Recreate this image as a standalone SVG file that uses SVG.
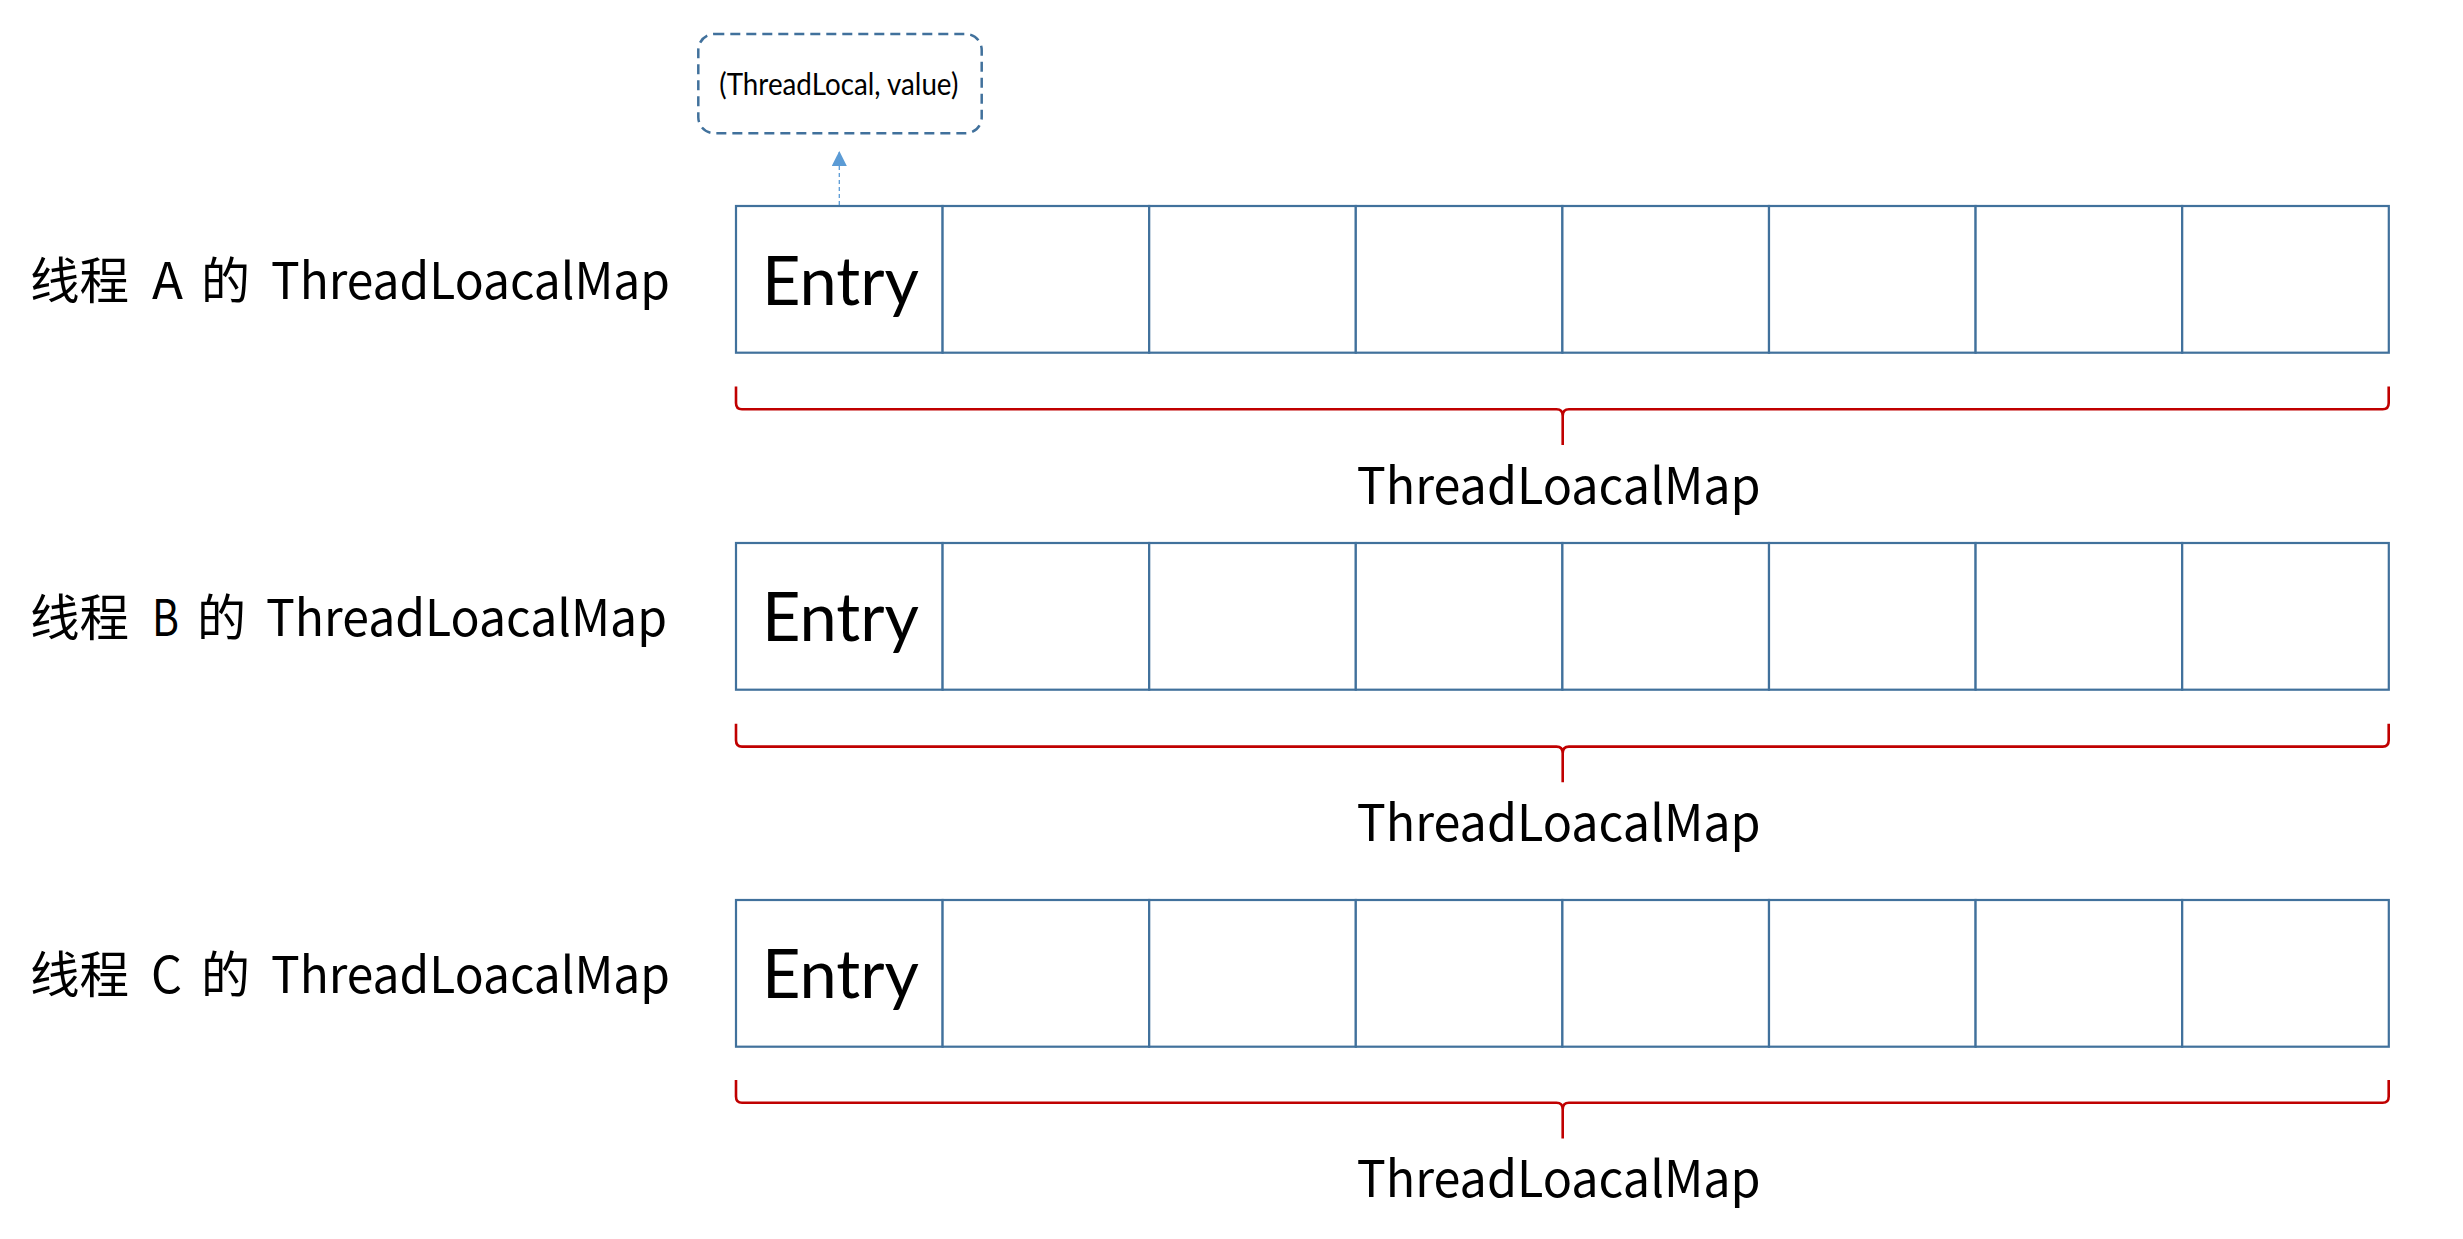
<svg xmlns="http://www.w3.org/2000/svg" width="2463" height="1239" viewBox="0 0 2463 1239">
<style>
.cell{fill:#fff;stroke:#41719C;stroke-width:2.2}
.brace{fill:none;stroke:#C00000;stroke-width:2.6}
.lbl{font-family:"Noto Sans CJK SC","Noto Sans",sans-serif;font-size:50px;fill:#000}
.map{font-family:"Noto Sans CJK SC","Noto Sans",sans-serif;font-size:50px;fill:#000}
.entry{font-family:Lato,"Open Sans",sans-serif;font-size:68px;fill:#000}
.note{font-family:Lato,"Open Sans",sans-serif;font-size:31px;fill:#000}
</style>
<defs>
<marker id="ah" markerWidth="15" markerHeight="15" refX="15" refY="7.5" orient="auto" markerUnits="userSpaceOnUse" viewBox="0 0 15 15">
<path d="M0,0 L15,7.5 L0,15 Z" fill="#5B9BD5"/>
</marker>
<g id="row">
<rect class="cell" x="0" y="0" width="206.6" height="146.7"/>
<rect class="cell" x="206.6" y="0" width="206.6" height="146.7"/>
<rect class="cell" x="413.2" y="0" width="206.6" height="146.7"/>
<rect class="cell" x="619.8" y="0" width="206.6" height="146.7"/>
<rect class="cell" x="826.4" y="0" width="206.6" height="146.7"/>
<rect class="cell" x="1033" y="0" width="206.6" height="146.7"/>
<rect class="cell" x="1239.6" y="0" width="206.6" height="146.7"/>
<rect class="cell" x="1446.2" y="0" width="206.6" height="146.7"/>
</g>
<path id="br" class="brace" d="M0,0 L0,16.5 Q0,22.8 6,22.8 L820.5,22.8 Q826.7,22.8 826.7,29.5 Q826.7,22.8 833,22.8 L1646.7,22.8 Q1652.7,22.8 1652.7,16.5 L1652.7,0 M826.7,29.5 L826.7,58.5"/>
</defs>

<g id="note">
<rect x="698.3" y="34" width="283.4" height="99.3" rx="16" ry="16" fill="#fff" stroke="#41719C" stroke-width="2.5" stroke-dasharray="10,6"/>
<text class="note" x="719.3" y="95" textLength="239" lengthAdjust="spacingAndGlyphs">(ThreadLocal, value)</text>
</g>

<g id="threadA">
<text class="lbl" y="299.3"><tspan x="30" textLength="99" lengthAdjust="spacingAndGlyphs">线程</tspan><tspan x="152" textLength="31" lengthAdjust="spacingAndGlyphs">A</tspan><tspan x="201" textLength="49" lengthAdjust="spacingAndGlyphs">的</tspan><tspan x="271" textLength="399" lengthAdjust="spacingAndGlyphs">ThreadLoacalMap</tspan></text>
</g>
<g id="mapA">
<use href="#row" x="736" y="206"/>
<text class="entry" x="762" y="305" textLength="157" lengthAdjust="spacingAndGlyphs">Entry</text>
</g>
<g id="braceA">
<use href="#br" x="736" y="386.5"/>
<text class="map" x="1356.7" y="504" textLength="404" lengthAdjust="spacingAndGlyphs">ThreadLoacalMap</text>
</g>

<g id="threadB">
<text class="lbl" y="636.3"><tspan x="30" textLength="99" lengthAdjust="spacingAndGlyphs">线程</tspan><tspan x="152" textLength="27" lengthAdjust="spacingAndGlyphs">B</tspan><tspan x="197" textLength="49" lengthAdjust="spacingAndGlyphs">的</tspan><tspan x="266" textLength="401" lengthAdjust="spacingAndGlyphs">ThreadLoacalMap</tspan></text>
</g>
<g id="mapB">
<use href="#row" x="736" y="543"/>
<text class="entry" x="762" y="641" textLength="157" lengthAdjust="spacingAndGlyphs">Entry</text>
</g>
<g id="braceB">
<use href="#br" x="736" y="723.8"/>
<text class="map" x="1356.7" y="841" textLength="404" lengthAdjust="spacingAndGlyphs">ThreadLoacalMap</text>
</g>

<g id="threadC">
<text class="lbl" y="993.3"><tspan x="30" textLength="99" lengthAdjust="spacingAndGlyphs">线程</tspan><tspan x="151" textLength="31" lengthAdjust="spacingAndGlyphs">C</tspan><tspan x="201" textLength="49" lengthAdjust="spacingAndGlyphs">的</tspan><tspan x="271" textLength="399" lengthAdjust="spacingAndGlyphs">ThreadLoacalMap</tspan></text>
</g>
<g id="mapC">
<use href="#row" x="736" y="900"/>
<text class="entry" x="762" y="998" textLength="157" lengthAdjust="spacingAndGlyphs">Entry</text>
</g>
<g id="braceC">
<use href="#br" x="736" y="1080"/>
<text class="map" x="1356.7" y="1196.7" textLength="404" lengthAdjust="spacingAndGlyphs">ThreadLoacalMap</text>
</g>

<g id="connectors">
<line x1="839.3" y1="205" x2="839.3" y2="151" stroke="#5B9BD5" stroke-width="1.3" stroke-dasharray="4,3" marker-end="url(#ah)"/>
</g>
</svg>
